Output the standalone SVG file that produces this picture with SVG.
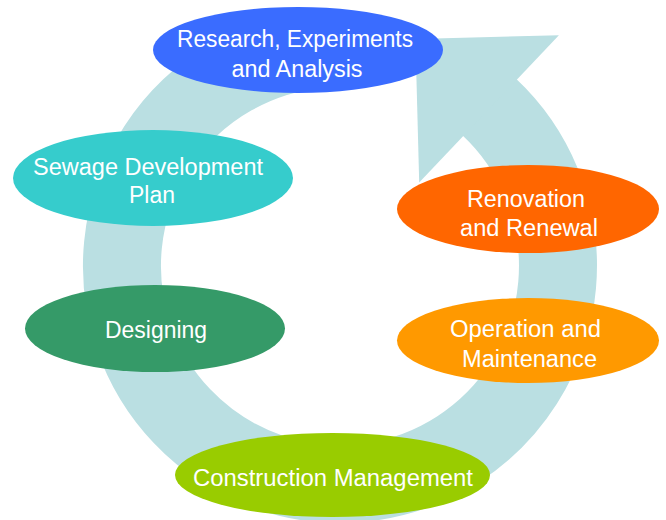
<svg xmlns="http://www.w3.org/2000/svg" width="666" height="520" viewBox="0 0 666 520">
  <style>
    .ring { fill: none; stroke: #badfe2; stroke-width: 78; stroke-linecap: butt; }
    .head { fill: #badfe2; }
    .lbl { font-family: "Liberation Sans", Arial, sans-serif; font-size: 23px; fill: #ffffff; text-anchor: middle; }
  </style>
  <rect width="666" height="520" fill="#ffffff"/>
  <g id="connectors">
    <path class="ring" d="M 321.0 48.8 A 218 218 0 1 0 488.7 106.6"/>
    <polygon class="head" points="558.9,35.3 415.4,39.0 419.2,182.6"/>
  </g>
  <g id="node-research">
    <ellipse cx="298" cy="50" rx="145" ry="43" fill="#3a6cff"/>
    <text class="lbl" x="295" y="47" textLength="236" lengthAdjust="spacingAndGlyphs">Research, Experiments</text>
    <text class="lbl" x="297" y="77" textLength="131" lengthAdjust="spacingAndGlyphs">and Analysis</text>
  </g>
  <g id="node-sewage-plan">
    <ellipse cx="153" cy="178" rx="140" ry="48" fill="#36cccc"/>
    <text class="lbl" x="148" y="175" textLength="230" lengthAdjust="spacingAndGlyphs">Sewage Development</text>
    <text class="lbl" x="152" y="203" textLength="46" lengthAdjust="spacingAndGlyphs">Plan</text>
  </g>
  <g id="node-designing">
    <ellipse cx="155" cy="328.5" rx="130" ry="43.5" fill="#359a68"/>
    <text class="lbl" x="156" y="338" textLength="102" lengthAdjust="spacingAndGlyphs">Designing</text>
  </g>
  <g id="node-construction">
    <ellipse cx="332.5" cy="475" rx="157.5" ry="42" fill="#99cc00"/>
    <text class="lbl" x="333" y="486" textLength="280" lengthAdjust="spacingAndGlyphs">Construction Management</text>
  </g>
  <g id="node-operation">
    <ellipse cx="528" cy="340.5" rx="131" ry="42.5" fill="#ff9900"/>
    <text class="lbl" x="525.5" y="336.5" textLength="151" lengthAdjust="spacingAndGlyphs">Operation and</text>
    <text class="lbl" x="529.5" y="366.5" textLength="135" lengthAdjust="spacingAndGlyphs">Maintenance</text>
  </g>
  <g id="node-renovation">
    <ellipse cx="528" cy="209" rx="131" ry="44" fill="#ff6600"/>
    <text class="lbl" x="526" y="206.5" textLength="118" lengthAdjust="spacingAndGlyphs">Renovation</text>
    <text class="lbl" x="529" y="236" textLength="138" lengthAdjust="spacingAndGlyphs">and Renewal</text>
  </g>
</svg>
